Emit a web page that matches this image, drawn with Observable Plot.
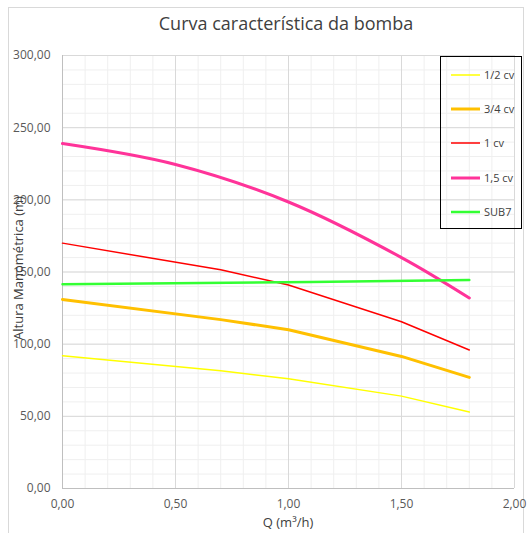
<!DOCTYPE html>
<html>
<head>
<meta charset="utf-8">
<script src="https://cdn.jsdelivr.net/npm/d3@7"></script>
<script src="https://cdn.jsdelivr.net/npm/@observablehq/plot@0.6"></script>
<style>
  body { margin: 0; background: #fff; font-family: "Open Sans", "Liberation Sans", sans-serif; }
  #wrap { position: relative; width: 528px; height: 533px; overflow: hidden; }
  #frame { position: absolute; left: 8px; top: 7px; width: 516px; height: 540px; border: 1px solid #d9d9d9; box-sizing: border-box; }
  #title { position: absolute; left: 0; width: 572px; top: 11px; text-align: center; font-size: 18px; color: #404040; }
  #chart { position: absolute; left: 0; top: 0; }
  #legend { position: absolute; left: 440px; top: 56px; width: 82px; height: 173px; border: 1.3px solid #000; box-sizing: border-box; }
  .item { position: absolute; left: 0; width: 80px; font-size: 11px; color: #404040; height: 14px; line-height: 14px; }
  .item svg { position: absolute; left: 10px; top: 0; }
  .item span.lb { position: absolute; left: 43px; top: 0; white-space: nowrap; }
  #ylabel { position: absolute; left: 18px; top: 268px; transform: translate(-50%, -50%) rotate(-90deg); font-size: 13px; color: #404040; white-space: nowrap; }
  #xlabel { position: absolute; left: 288px; top: 513px; transform: translateX(-50%); font-size: 13px; color: #404040; white-space: nowrap; }
</style>
</head>
<body>
<div id="wrap">
  <div id="frame"></div>
  <div id="chart"></div>
  <div id="title">Curva característica da bomba</div>
  <div id="ylabel">Altura Manométrica (m)</div>
  <div id="xlabel">Q (m³/h)</div>
  <div id="legend"></div>
</div>
<script>
const seriesNames = ["1/2 cv", "3/4 cv", "1 cv", "1,5 cv", "SUB7"];
const seriesColors = ["#FFFF00", "#FFC000", "#FF0000", "#FF3399", "#33FF33"];
const seriesWidths = [1.5, 3, 1.5, 3, 2.5];

const qPump = [0, 0.7, 1.0, 1.5, 1.8];
const halfCv = [92, 81.5, 76, 64, 53];
const threeQuarterCv = [131, 117, 110, 91.5, 77];
const oneCv = [170, 151.5, 141, 115.5, 96];

const qBig = [0, 0.5, 1.0, 1.5, 1.8];
const oneHalfCv = [239, 224.5, 198.5, 160, 132];

const qSub = [0, 1.1, 1.8];
const sub7 = [141.5, 143, 144.5];

const xTicks = [0, 0.5, 1.0, 1.5, 2.0];
const yTicks = [0, 50, 100, 150, 200, 250, 300];

const table = [];
const add = (name, qs, hs) => qs.forEach((q, i) => table.push({serie: name, q, h: hs[i]}));
add("1/2 cv", qPump, halfCv);
add("3/4 cv", qPump, threeQuarterCv);
add("1 cv", qPump, oneCv);
add("1,5 cv", qBig, oneHalfCv);
add("SUB7", qSub, sub7);

const fmt = d => d3.format(".2f")(d).replace(".", ",");
const minorX = d3.range(0, 2.001, 0.1).map(v => +v.toFixed(2));
const minorY = d3.range(0, 301, 10);

const lineMarks = seriesNames.map((n, i) =>
  Plot.line(table.filter(d => d.serie === n), {
    x: "q", y: "h", stroke: seriesColors[i], strokeWidth: seriesWidths[i],
    curve: n === "1,5 cv" ? "catmull-rom" : "linear"
  })
);

const chart = Plot.plot({
  width: 528, height: 533,
  marginLeft: 62, marginRight: 14, marginTop: 55, marginBottom: 45,
  style: {fontFamily: "'Open Sans', 'Liberation Sans', sans-serif", fontSize: "12px", color: "#595959", background: "transparent"},
  x: {domain: [0, 2], ticks: xTicks, tickFormat: fmt, label: null},
  y: {domain: [0, 300], ticks: yTicks, tickFormat: fmt, label: null},
  marks: [
    Plot.ruleX(minorX, {stroke: "#efefef", strokeWidth: 1}),
    Plot.ruleY(minorY, {stroke: "#efefef", strokeWidth: 1}),
    Plot.ruleX(xTicks, {stroke: "#d9d9d9", strokeWidth: 1}),
    Plot.ruleY(yTicks, {stroke: "#d9d9d9", strokeWidth: 1}),
    Plot.ruleX([0], {stroke: "#bfbfbf", strokeWidth: 1}),
    Plot.ruleY([0], {stroke: "#bfbfbf", strokeWidth: 1}),
    Plot.axisX({ticks: xTicks, tickFormat: fmt, tickSize: 0, tickPadding: 11, label: null, fill: "#595959"}),
    Plot.axisY({ticks: yTicks, tickFormat: fmt, tickSize: 0, tickPadding: 12, label: null, fill: "#595959"}),
    ...lineMarks
  ]
});
document.getElementById("chart").appendChild(chart);

const legend = document.getElementById("legend");
const legendTops = [11, 45, 79, 114, 148];
const NS = "http://www.w3.org/2000/svg";
seriesNames.forEach((n, i) => {
  const it = document.createElement("div");
  it.className = "item";
  it.style.top = legendTops[i] + "px";
  const svg = document.createElementNS(NS, "svg");
  svg.setAttribute("width", "30");
  svg.setAttribute("height", "14");
  const ln = document.createElementNS(NS, "line");
  ln.setAttribute("x1", "0"); ln.setAttribute("x2", "29");
  ln.setAttribute("y1", "7"); ln.setAttribute("y2", "7");
  ln.setAttribute("stroke", seriesColors[i]);
  ln.setAttribute("stroke-width", seriesWidths[i]);
  svg.appendChild(ln);
  const lb = document.createElement("span");
  lb.className = "lb";
  lb.textContent = n;
  it.appendChild(svg); it.appendChild(lb);
  legend.appendChild(it);
});
</script>
</body>
</html>
